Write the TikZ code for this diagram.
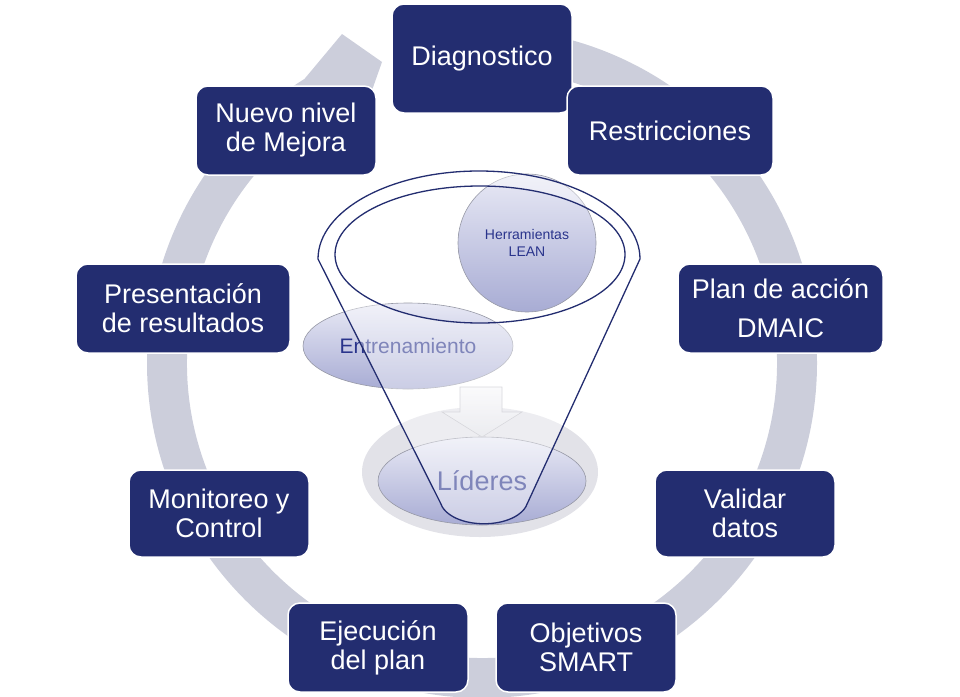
\documentclass[tikz,border=0pt]{standalone}
\usepackage{fontspec}
\setmainfont{Liberation Sans}
\usetikzlibrary{calc,shapes.geometric}
\definecolor{navy}{RGB}{35,45,112}
\definecolor{ringc}{RGB}{204,206,219}
\definecolor{txtnavy}{RGB}{42,52,140}
\definecolor{blobtop}{RGB}{232,233,245}
\definecolor{blobbot}{RGB}{168,172,212}
\definecolor{blobline}{RGB}{150,152,165}
\definecolor{halo}{RGB}{226,226,232}
\begin{document}
\begin{tikzpicture}[x=1pt,y=-1pt,
  stepbox/.style={draw=white, line width=1.5pt, fill=navy, rounded corners=12pt,
    text=white, align=center, inner sep=0pt, minimum height=89pt,
    font=\fontsize{27}{29}\selectfont},
  blob/.style={draw=blobline, line width=0.6pt, top color=blobtop, bottom color=blobbot,
    inner sep=0pt, text=txtnavy, align=center},
  funnelline/.style={draw=navy, line width=1.3pt}]
\useasboundingbox (0,0) rectangle (960,696);
\coordinate (c) at (482,363);
% circular arrow
\fill[ringc] ($(c)+(-90:335)$) arc[start angle=-90, end angle=238, radius=335]
  -- (342,34) -- (382,62) -- ($(c)+(244:273)$) -- ($(c)+(238:295)$)
  arc[start angle=238, end angle=-90, radius=295] -- cycle;
% steps
\node[stepbox, minimum width=180pt, minimum height=109pt] (diag) at (482,58.5) {Diagnostico};
\node[stepbox, minimum width=206pt] (restr) at (670,130.5) {Restricciones};
\node[stepbox, minimum width=205pt] (plan) at (780.5,308.5) {Plan de acción\\[10pt]DMAIC};
\node[stepbox, minimum width=180pt, minimum height=87pt] (valid) at (745,513.5) {Validar\\datos};
\node[stepbox, minimum width=180pt] (obj) at (586,647.5) {Objetivos\\SMART};
\node[stepbox, minimum width=180pt] (ejec) at (378,647.5) {Ejecución\\del plan};
\node[stepbox, minimum width=180pt, minimum height=87pt] (moni) at (219,513.5) {Monitoreo y\\Control};
\node[stepbox, minimum width=214pt] (pres) at (183,308.5) {Presentación\\de resultados};
\node[stepbox, minimum width=180pt] (nuevo) at (286,130.5) {Nuevo nivel\\de Mejora};
% centre graphic
\node[ellipse, fill=halo, minimum width=236pt, minimum height=130pt] (halo) at (480,472) {};
\node[blob, ellipse, minimum width=208pt, minimum height=88pt,
  font=\fontsize{27}{29}\selectfont] (lid) at (482,481) {Líderes};
\path[draw={rgb,255:red,190;green,190;blue,198}, line width=0.6pt,
  top color={rgb,255:red,248;green,248;blue,250}, bottom color={rgb,255:red,222;green,223;blue,230}]
  (460,387) -- (502,387) -- (502,412) -- (522,412) -- (482,437) -- (442,412) -- (460,412) -- cycle;
\node[blob, ellipse, minimum width=210pt, minimum height=86pt,
  font=\fontsize{21}{23}\selectfont] (entr) at (408,346) {Entrenamiento};
\node[blob, circle, minimum size=138pt] (herr) at (527,243) {};
\node[text=txtnavy, align=center, inner sep=0pt, font=\fontsize{14}{17}\selectfont]
  (herrtxt) at (527,243) {Herramientas\\LEAN};
% funnel
\path[fill=white, fill opacity=0.4, even odd rule]
  (318,259) arc[start angle=180, end angle=360, x radius=161, y radius=88]
  -- (528,502) .. controls (519,531) and (449,531) .. (440,502) -- cycle
  (480,254.5) ellipse[x radius=145, y radius=68.5];
\draw[funnelline] (318,259) arc[start angle=180, end angle=360, x radius=161, y radius=88]
  -- (528,502) .. controls (519,531) and (449,531) .. (440,502) -- cycle;
\draw[funnelline] (480,254.5) ellipse[x radius=145, y radius=68.5];
\end{tikzpicture}
\end{document}
